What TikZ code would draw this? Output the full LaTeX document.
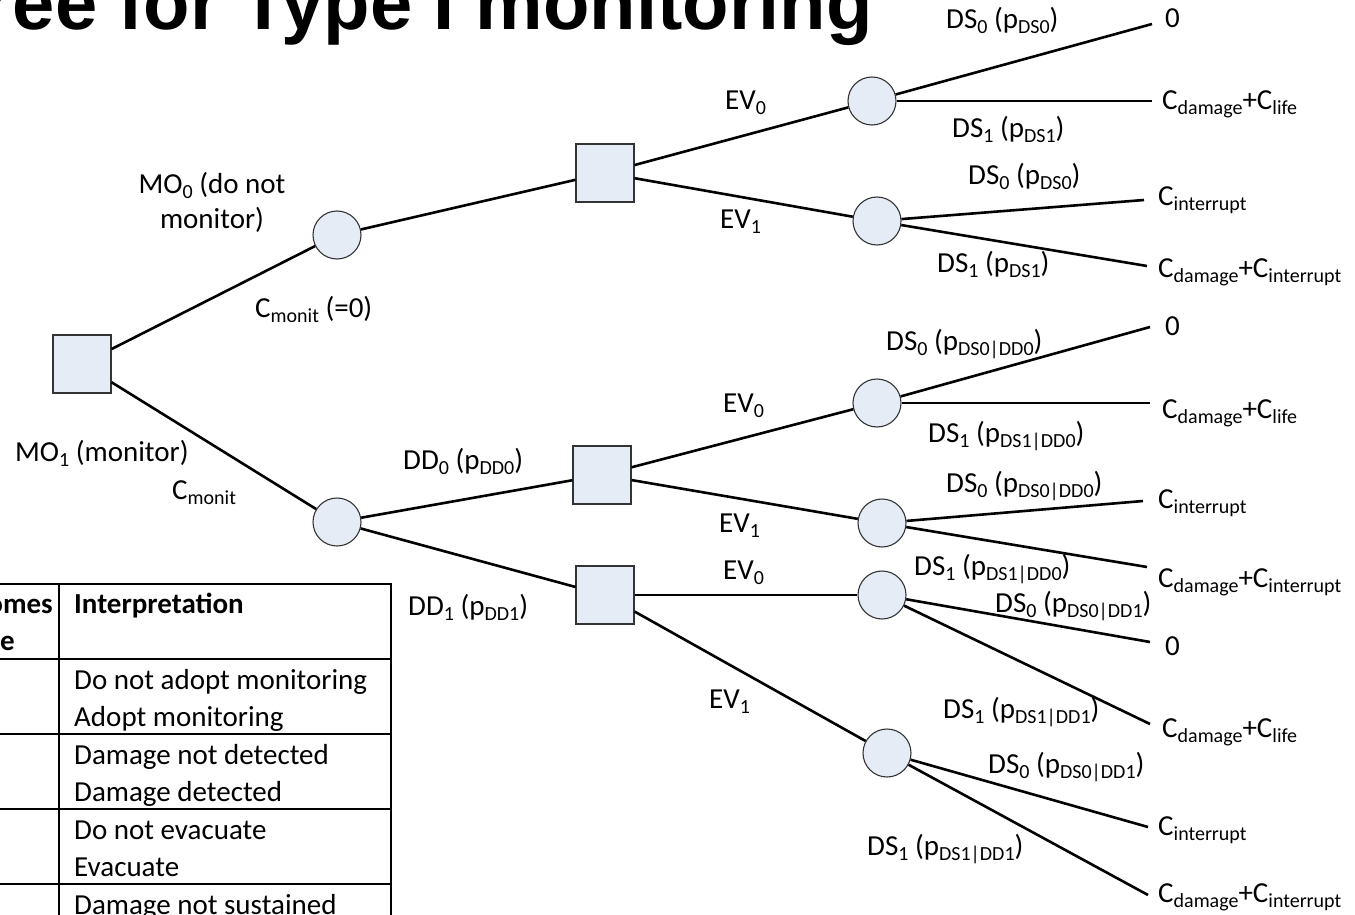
\documentclass[tikz,border=0pt]{standalone}
\usepackage{fontspec}
\setmainfont{Carlito}
\newfontfamily\headfont{Liberation Sans}
\definecolor{nodefill}{RGB}{229,236,246}
% lowered, smaller subscript text
\newcommand\sbs[1]{\raisebox{-5pt}{\fontsize{20}{20}\selectfont #1}}
\begin{document}
\begin{tikzpicture}[x=1pt,y=-1pt,
  decision/.style={rectangle, draw=black!80, line width=1.1pt, fill=nodefill, minimum size=58pt, inner sep=0pt},
  chance/.style={circle, draw=black!80, line width=1.1pt, fill=nodefill, minimum size=48pt, inner sep=0pt},
  branch/.style={line width=2.6pt},
  lbl/.style={anchor=base west, inner sep=0pt, font=\fontsize{29}{35}\selectfont},
  tbl/.style={line width=2pt},
]
\clip (0,0) rectangle (1355,915);

% title
\node[anchor=base east, inner sep=0pt, font=\headfont\bfseries\fontsize{76}{90}\selectfont] (title) at (873,30) {Decision tree for Type I monitoring};

% decision and chance nodes
\node[decision] (root) at (82,364) {};
\node[chance] (mo0) at (337,235) {};
\node[chance] (mo1) at (337,522) {};
\node[decision] (ev) at (605,173) {};
\node[decision] (dd0) at (602,475) {};
\node[decision] (dd1) at (605,595) {};
\node[chance] (a0) at (872,101) {};
\node[chance] (a1) at (877,221) {};
\node[chance] (b0) at (877,403) {};
\node[chance] (b1) at (882,523) {};
\node[chance] (c0) at (882,595) {};
\node[chance] (c1) at (887,753) {};

% leaf end points
\coordinate (ta0s0) at (1152,24);
\coordinate (ta0s1) at (1152,101);
\coordinate (ta1s0) at (1144,200);
\coordinate (ta1s1) at (1147,266);
\coordinate (tb0s0) at (1150,327);
\coordinate (tb0s1) at (1150,403);
\coordinate (tb1s0) at (1143,501);
\coordinate (tb1s1) at (1147,567);
\coordinate (tc0s0) at (1150,642);
\coordinate (tc0s1) at (1150,724);
\coordinate (tc1s0) at (1148,827);
\coordinate (tc1s1) at (1148,895);

% branches
\draw[branch] (root) -- (mo0);
\draw[branch] (root) -- (mo1);
\draw[branch] (mo0) -- (ev);
\draw[branch] (mo1) -- (dd0);
\draw[branch] (mo1) -- (dd1);
\draw[branch] (ev) -- (a0);
\draw[branch] (ev) -- (a1);
\draw[branch] (dd0) -- (b0);
\draw[branch] (dd0) -- (b1);
\draw[branch] (dd1) -- (c0);
\draw[branch] (dd1) -- (c1);
\draw[branch] (a0) -- (ta0s0);
\draw[branch] (a0) -- (ta0s1);
\draw[branch] (a1) -- (ta1s0);
\draw[branch] (a1) -- (ta1s1);
\draw[branch] (b0) -- (tb0s0);
\draw[branch] (b0) -- (tb0s1);
\draw[branch] (b1) -- (tb1s0);
\draw[branch] (b1) -- (tb1s1);
\draw[branch] (c0) -- (tc0s0);
\draw[branch] (c0) -- (tc0s1);
\draw[branch] (c1) -- (tc1s0);
\draw[branch] (c1) -- (tc1s1);

% branch labels
\node[lbl, anchor=base, align=center] (lmo0) at (212,228) {MO\sbs{0} (do not\\monitor)};
\node[lbl] (lcm0) at (255,317) {C\sbs{monit} (=0)};
\node[lbl] (lmo1) at (15,461) {MO\sbs{1} (monitor)};
\node[lbl] (lcm1) at (172,499) {C\sbs{monit}};
\node[lbl] (ldd0) at (403,469) {DD\sbs{0} (p\sbs{DD0})};
\node[lbl] (ldd1) at (408,615) {DD\sbs{1} (p\sbs{DD1})};
\node[lbl] (lev0a) at (725,110) {EV\sbs{0}};
\node[lbl] (lev1a) at (720,228) {EV\sbs{1}};
\node[lbl] (lev0b) at (723,412) {EV\sbs{0}};
\node[lbl] (lev1b) at (719,532) {EV\sbs{1}};
\node[lbl] (lev0c) at (723,579) {EV\sbs{0}};
\node[lbl] (lev1c) at (709,708) {EV\sbs{1}};

\node[lbl] (la0s0) at (946,29) {DS\sbs{0} (p\sbs{DS0})};
\node[lbl] (la0s1) at (952,138) {DS\sbs{1} (p\sbs{DS1})};
\node[lbl] (la1s0) at (968,185) {DS\sbs{0} (p\sbs{DS0})};
\node[lbl] (la1s1) at (937,272) {DS\sbs{1} (p\sbs{DS1})};
\node[lbl] (lb0s0) at (886,350) {DS\sbs{0} (p\sbs{DS0|DD0})};
\node[lbl] (lb0s1) at (928,442) {DS\sbs{1} (p\sbs{DS1|DD0})};
\node[lbl] (lb1s0) at (946,492) {DS\sbs{0} (p\sbs{DS0|DD0})};
\node[lbl] (lb1s1) at (914,575) {DS\sbs{1} (p\sbs{DS1|DD0})};
\node[lbl] (lc0s0) at (995,612) {DS\sbs{0} (p\sbs{DS0|DD1})};
\node[lbl] (lc0s1) at (943,718) {DS\sbs{1} (p\sbs{DS1|DD1})};
\node[lbl] (lc1s0) at (988,773) {DS\sbs{0} (p\sbs{DS0|DD1})};
\node[lbl] (lc1s1) at (867,855) {DS\sbs{1} (p\sbs{DS1|DD1})};

% outcome costs
\node[lbl] (va0s0) at (1165,28) {0};
\node[lbl] (va0s1) at (1162,110) {C\sbs{damage}+C\sbs{life}};
\node[lbl] (va1s0) at (1158,205) {C\sbs{interrupt}};
\node[lbl] (va1s1) at (1158,277) {C\sbs{damage}+C\sbs{interrupt}};
\node[lbl] (vb0s0) at (1165,335) {0};
\node[lbl] (vb0s1) at (1162,418) {C\sbs{damage}+C\sbs{life}};
\node[lbl] (vb1s0) at (1158,508) {C\sbs{interrupt}};
\node[lbl] (vb1s1) at (1158,587) {C\sbs{damage}+C\sbs{interrupt}};
\node[lbl] (vc0s0) at (1165,655) {0};
\node[lbl] (vc0s1) at (1162,737) {C\sbs{damage}+C\sbs{life}};
\node[lbl] (vc1s0) at (1158,835) {C\sbs{interrupt}};
\node[lbl] (vc1s1) at (1158,902) {C\sbs{damage}+C\sbs{interrupt}};

% legend table
\draw[tbl] (-200,584) -- (391,584) -- (391,940);
\draw[tbl] (59,584) -- (59,940);
\foreach \y in {659,734,809,884} \draw[tbl] (-200,\y) -- (391,\y);
\node[lbl, anchor=base east, font=\fontsize{29}{35}\selectfont\bfseries] (th1a) at (53,613) {Outcomes};
\node[lbl, anchor=base east, font=\fontsize{29}{35}\selectfont\bfseries] (th1b) at (15,650) {type};
\node[lbl, font=\fontsize{29}{35}\selectfont\bfseries] (th2) at (74,613) {Interpretation};
\node[lbl] (tr1) at (74,689) {Do not adopt monitoring};
\node[lbl] (tr2) at (74,726) {Adopt monitoring};
\node[lbl] (tr3) at (74,764) {Damage not detected};
\node[lbl] (tr4) at (74,801) {Damage detected};
\node[lbl] (tr5) at (74,839) {Do not evacuate};
\node[lbl] (tr6) at (74,876) {Evacuate};
\node[lbl] (tr7) at (74,914) {Damage not sustained};
\end{tikzpicture}
\end{document}
